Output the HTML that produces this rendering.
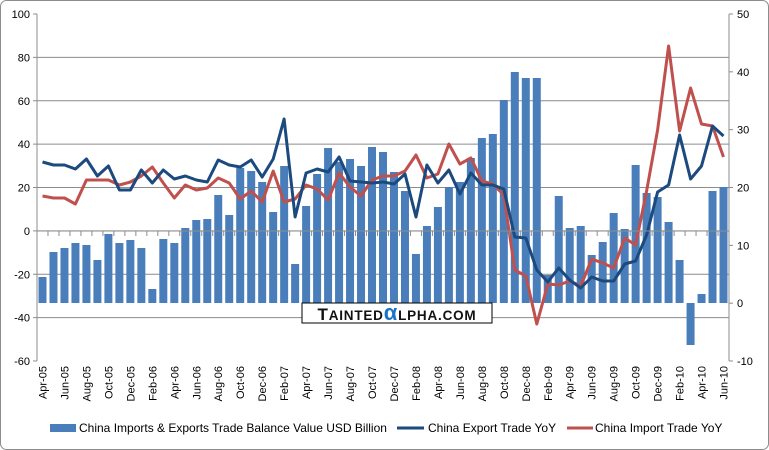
<!DOCTYPE html>
<html><head><meta charset="utf-8">
<style>
body{margin:0;background:#fff;}
svg{display:block;font-family:"Liberation Sans",sans-serif;}
</style></head>
<body>
<svg id="c" width="769" height="450" xmlns="http://www.w3.org/2000/svg">
<rect x="0.5" y="0.5" width="768" height="449" rx="6" fill="#fff" stroke="#8c8c8c"/>
<g id="grid"></g>
<g id="bars"></g>
<g id="lines"></g>
<g id="axes"></g>
<rect x="302" y="303" width="190" height="20" fill="#fff" stroke="#000"/>
<text x="397" y="320" text-anchor="middle" font-size="17" font-weight="bold" fill="#111" letter-spacing="0.8">T<tspan font-size="13.5">AINTED</tspan><tspan fill="#1a73c8" font-size="22">α</tspan><tspan font-size="13.5">LPHA.COM</tspan></text>
<g font-size="12" fill="#000">
<rect x="50" y="424" width="26" height="8" fill="#4a7ebb"/>
<text x="79" y="432">China Imports &amp; Exports Trade Balance Value USD Billion</text>
<line x1="397" y1="428" x2="424" y2="428" stroke="#1c4a7e" stroke-width="3"/>
<text x="428" y="432">China Export Trade YoY</text>
<line x1="567" y1="428" x2="593" y2="428" stroke="#c0504d" stroke-width="3"/>
<text x="595" y="432">China Import Trade YoY</text>
</g>
</svg>
<script>
var NS="http://www.w3.org/2000/svg";
function el(p,t,a,txt){var e=document.createElementNS(NS,t);for(var k in a)e.setAttribute(k,a[k]);if(txt!=null)e.textContent=txt;document.getElementById(p).appendChild(e);return e;}
var L=37,R=729,T=14,B=361,step=(R-L)/63;
for(var i=0;i<=8;i++){var y=T+i*(B-T)/8;
 if(i>0&&i<8)el("grid","line",{x1:L,x2:R,y1:y,y2:y,stroke:"#8c8c8c","stroke-width":1});
 el("axes","text",{x:30,y:y+4,"text-anchor":"end","font-size":11},String(100-20*i));
 el("axes","line",{x1:L-4,x2:L,y1:y,y2:y,stroke:"#8c8c8c"});
}
for(var i=0;i<=6;i++){var y=T+i*(B-T)/6;
 el("axes","text",{x:737,y:y+4,"font-size":11},String(50-10*i));
 el("axes","line",{x1:R,x2:R+4,y1:y,y2:y,stroke:"#8c8c8c"});
}
el("axes","line",{x1:L,x2:L,y1:T,y2:B,stroke:"#8c8c8c"});
el("axes","line",{x1:R,x2:R,y1:T,y2:B,stroke:"#8c8c8c"});
el("axes","line",{x1:L,x2:R,y1:231,y2:231,stroke:"#8c8c8c"});
for(var i=0;i<=63;i++){var x=L+i*step;el("axes","line",{x1:x,x2:x,y1:231,y2:236,stroke:"#8c8c8c"});}
var bars=[277,252,248,243,245,260,234,243,240,248,289,239,243,228,220,219,195,215,168,171,182,212,166,264,206,174,148,162,159,166,147,152,172,191,254,226,207,187,182,158,138,134,100,72,78,78,275,196,228,226,255,242,213,229,165,193,197,222,260,345,294,191,187];
var base=303;
bars.forEach(function(t,i){var cx=L+step*(i+0.5);var y=Math.min(t,base),h=Math.abs(base-t);
 el("bars","rect",{x:cx-4,y:y,width:8,height:h,fill:"#4a7ebb"});});
var blue=[162,165,165,169,159,176,166,190,190,170,183,170,179,176,180,182,160,165,167,160,177,159,119,217,173,169,172,157,181,182,183,182,184,174,217,165,183,170,194,173,185,185,189,237,238,270,282,268,280,288,277,281,281,264,261,235,192,185,135,179,166,126,136];
var red=[196,198,198,204,180,180,180,185,182,176,167,183,198,185,190,188,178,183,199,191,202,171,202,199,185,189,200,173,187,196,180,176,176,171,155,178,174,144,164,158,181,184,195,270,276,324,284,285,281,286,259,263,268,238,245,191,130,46,131,88,124,126,157];
function pl(d,c){var p=d.map(function(y,i){return (L+step*(i+0.5)).toFixed(1)+","+y;}).join(" ");
 el("lines","polyline",{points:p,fill:"none",stroke:c,"stroke-width":3,"stroke-linejoin":"round"});}
pl(red,"#c0504d");pl(blue,"#1c4a7e");
var mon=["Jan","Feb","Mar","Apr","May","Jun","Jul","Aug","Sep","Oct","Nov","Dec"];
for(var i=0;i<63;i+=2){var m=(3+i)%12,yr=5+Math.floor((3+i)/12);
 var x=L+step*(i+0.5)+4;
 el("axes","text",{x:x,y:366,"font-size":11,"text-anchor":"end",transform:"rotate(-90 "+x+" 366)"},mon[m]+"-"+(yr<10?"0":"")+yr);}
</script>
</body></html>
